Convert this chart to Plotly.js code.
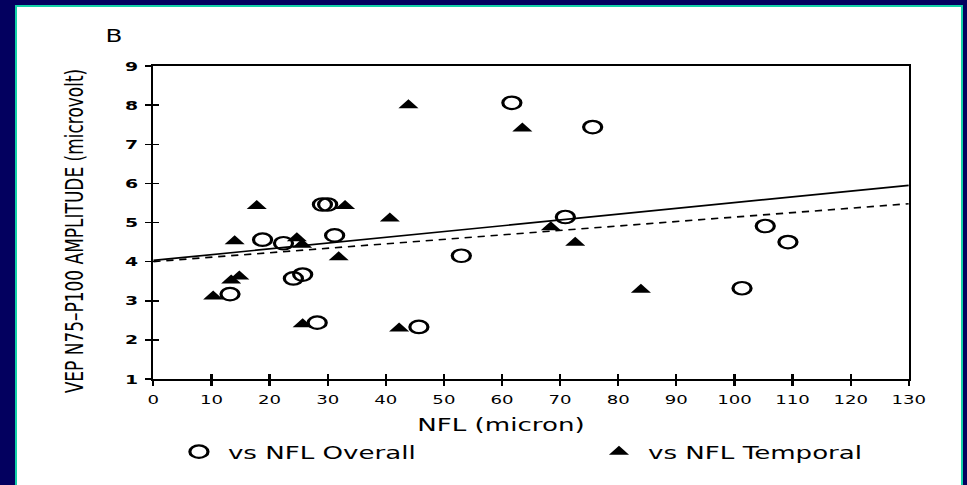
<!DOCTYPE html>
<html>
<head>
<meta charset="utf-8">
<script src="https://cdn.plot.ly/plotly-3.0.1.min.js"></script>
<style>
  html, body { margin:0; padding:0; width:967px; height:485px; overflow:hidden; background:#03005f; }
  #frame { position:absolute; left:15px; top:5px; width:948px; height:480px; background:#14d0a8; }
  #white { position:absolute; left:17px; top:7px; width:944px; height:478px; background:#ffffff; overflow:hidden; }
  #plot { width:651px; height:478px; transform:scaleX(1.4501); transform-origin:0 0; }
</style>
</head>
<body>
<div id="frame"></div>
<div id="white"><div id="plot"></div></div>
<script>
// Data
const overallX = [61.7, 29.1, 30.0, 18.8, 22.4, 31.2, 53.0, 24.1, 25.7, 13.2, 28.2, 45.7, 75.6, 70.9, 105.3, 109.2, 101.3];
const overallY = [8.06, 5.46, 5.46, 4.56, 4.47, 4.67, 4.15, 3.57, 3.67, 3.17, 2.44, 2.33, 7.44, 5.14, 4.91, 4.50, 3.32];
const temporalX = [43.9, 63.5, 17.8, 33.0, 40.7, 14.0, 24.7, 25.6, 31.9, 13.4, 14.8, 10.3, 25.7, 42.3, 68.4, 72.6, 83.9];
const temporalY = [8.00, 7.40, 5.42, 5.42, 5.10, 4.52, 4.60, 4.43, 4.11, 3.52, 3.62, 3.11, 2.40, 2.29, 4.88, 4.48, 3.28];
const fitX = [0, 130];
const fitSolidY = [4.03, 5.95];
const fitDashedY = [4.00, 5.48];
const xTicks = [0,10,20,30,40,50,60,70,80,90,100,110,120,130];
const yTicks = [1,2,3,4,5,6,7,8,9];

const FONT = 'DejaVu Sans, Verdana, sans-serif';

const traces = [
  {x: fitX, y: fitSolidY, mode: 'lines', line: {color: '#000', width: 1.7}, showlegend: false, hoverinfo: 'skip', xaxis: 'x2', yaxis: 'y2'},
  {x: fitX, y: fitDashedY, mode: 'lines', line: {color: '#000', width: 1.6, dash: '5px,4px'}, showlegend: false, hoverinfo: 'skip', xaxis: 'x2', yaxis: 'y2'},
  {x: overallX, y: overallY, mode: 'markers', name: 'vs NFL Overall', legend: 'legend',
   marker: {symbol: 'circle-open', size: 12.5, color: '#000', line: {width: 2.2, color: '#000'}}},
  {x: temporalX, y: temporalY, mode: 'markers', name: 'vs NFL Temporal', legend: 'legend2',
   marker: {symbol: 'triangle-up', size: 12, color: '#000'}}
];

const axBase = {
  showgrid: false, zeroline: false, color: '#000'
};

const layout = {
  width: 651, height: 478,
  margin: {l: 94.47, r: 35.86, t: 59, b: 106},
  paper_bgcolor: '#fff', plot_bgcolor: '#fff',
  font: {family: FONT, color: '#000'},
  xaxis: Object.assign({}, axBase, {
    range: [0, 130], tickvals: xTicks, ticktext: xTicks.map(String),
    ticks: 'outside', ticklen: 5, tickwidth: 1.5, tickcolor: '#000',
    showline: true, linewidth: 1.8, linecolor: '#000', mirror: true,
    tickfont: {family: FONT, size: 12.5, color: '#000'}, ticklabelstandoff: 3
  }),
  yaxis: Object.assign({}, axBase, {
    range: [1, 9], tickvals: yTicks, ticktext: yTicks.map(String),
    ticks: 'outside', ticklen: 4, tickwidth: 1.5, tickcolor: '#000',
    showline: true, linewidth: 1.8, linecolor: '#000', mirror: true,
    tickfont: {family: FONT, size: 13, color: '#000', weight: 'bold'}, ticklabelstandoff: 2
  }),
  xaxis2: Object.assign({}, axBase, {
    overlaying: 'x', anchor: 'y2', range: [0, 130], tickvals: xTicks,
    ticks: 'inside', ticklen: 5, tickwidth: 1.5, tickcolor: '#000',
    showticklabels: false, showline: false
  }),
  yaxis2: Object.assign({}, axBase, {
    overlaying: 'y', anchor: 'x2', range: [1, 9], tickvals: yTicks,
    ticks: 'inside', ticklen: 4, tickwidth: 1.5, tickcolor: '#000',
    showticklabels: false, showline: false
  }),
  legend: {
    x: 0.022, y: -0.233, xanchor: 'left', yanchor: 'middle', orientation: 'h',
    font: {family: FONT, size: 18, color: '#000'}, bgcolor: 'rgba(0,0,0,0)', borderwidth: 0
  },
  legend2: {
    x: 0.578, y: -0.233, xanchor: 'left', yanchor: 'middle', orientation: 'h',
    font: {family: FONT, size: 18, color: '#000'}, bgcolor: 'rgba(0,0,0,0)', borderwidth: 0
  },
  annotations: [
    {text: 'B', xref: 'paper', yref: 'paper', x: -0.0517, y: 1.0974, xanchor: 'center', yanchor: 'middle',
     showarrow: false, font: {family: FONT, size: 17, color: '#000'}},
    {text: 'NFL (micron)', xref: 'paper', yref: 'paper', x: 0.4603, y: -0.1454, xanchor: 'center', yanchor: 'middle',
     showarrow: false, font: {family: FONT, size: 18, color: '#000'}},
    {text: 'VEP N75\u2013P100 AMPLITUDE (microvolt)', xref: 'paper', yref: 'paper', x: -0.1046, y: 0.473,
     xanchor: 'center', yanchor: 'middle', textangle: -90,
     showarrow: false, font: {family: FONT, size: 17, color: '#000'}}
  ],
  showlegend: true
};

Plotly.newPlot('plot', traces, layout, {staticPlot: true, displayModeBar: false});
</script>
</body>
</html>
